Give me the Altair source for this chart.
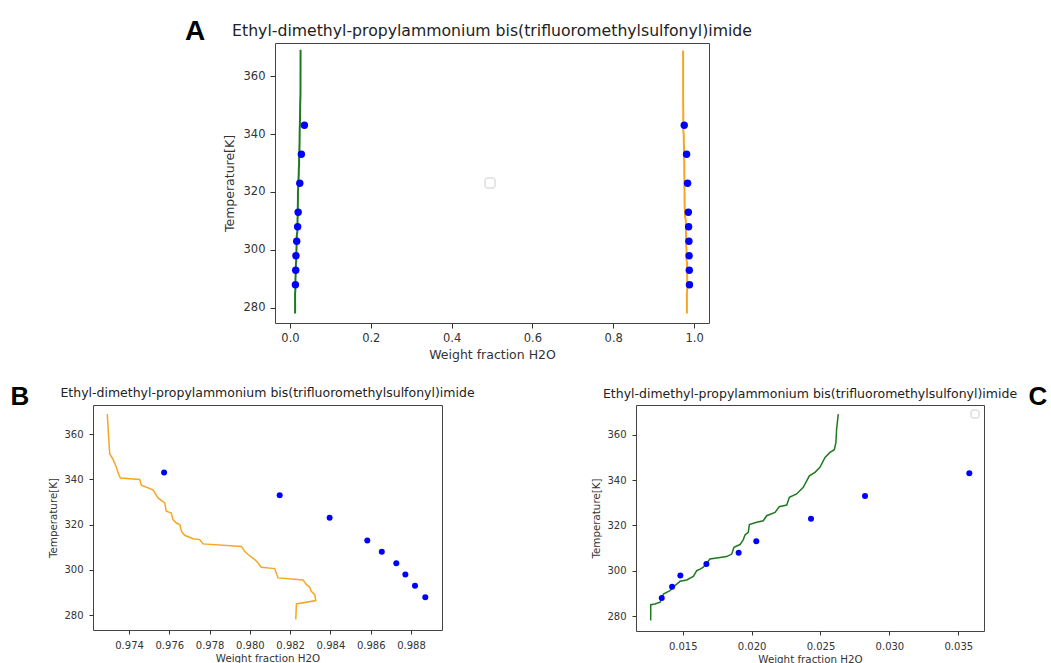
import altair as alt
import pandas as pd

TITLE = "Ethyl-dimethyl-propylammonium bis(trifluoromethylsulfonyl)imide"
X_LABEL = "Weight fraction H2O"
Y_LABEL = "Temperature[K]"

# Experimental liquid-liquid equilibrium points
exp_T = [288, 293, 298, 303, 308, 313, 323, 333, 343]
exp_w_il_phase = [0.01348, 0.01423, 0.01483, 0.01672, 0.01906, 0.02034, 0.02431, 0.02823, 0.03580]
exp_w_water_phase = [0.98871, 0.98820, 0.98772, 0.98727, 0.98655, 0.98583, 0.98396, 0.98148, 0.97574]

# Predicted water-rich branch (orange)
water_T = [278.1, 285.0, 286.5, 289.1, 290.6, 292.4, 293.5, 295.6, 296.5, 300.6,
           301.2, 303.1, 304.6, 306.8, 308.2, 310.4, 311.5, 313.4, 313.8, 315.3,
           317.1, 320.0, 320.7, 322.2, 325.1, 325.9, 329.6, 331.8, 332.9, 335.4,
           337.4, 339.9, 340.6, 342.1, 345.3, 348.7, 351.2, 362.6, 368.8]
water_w = [0.98228, 0.98231, 0.98327, 0.98322, 0.98305, 0.98297, 0.98281, 0.98264, 0.98140, 0.98123,
           0.98057, 0.98041, 0.98024, 0.97991, 0.97974, 0.97958, 0.97767, 0.97751, 0.97718, 0.97676,
           0.97660, 0.97652, 0.97635, 0.97618, 0.97610, 0.97585, 0.97577, 0.97544, 0.97536, 0.97519,
           0.97461, 0.97453, 0.97357, 0.97349, 0.97337, 0.97321, 0.97304, 0.97296, 0.97292]

# Predicted IL-rich branch (green)
il_T = [278.1, 285.1, 285.4, 286.2, 289.8, 291.3, 293.8, 295.4, 296.0, 297.6,
        300.1, 300.8, 301.6, 305.2, 306.3, 307.4, 310.4, 311.6, 313.8, 315.8,
        317.0, 320.4, 321.4, 322.1, 324.3, 325.8, 328.3, 329.0, 332.4, 333.9,
        336.8, 341.9, 343.4, 345.6, 350.0, 352.2, 353.4, 356.6, 362.5, 369.1]
il_w = [0.01268, 0.01268, 0.01299, 0.01336, 0.01360, 0.01408, 0.01449, 0.01481, 0.01529, 0.01577,
        0.01602, 0.01626, 0.01650, 0.01698, 0.01819, 0.01856, 0.01872, 0.01916, 0.01940, 0.01952,
        0.01976, 0.01984, 0.02037, 0.02085, 0.02109, 0.02170, 0.02201, 0.02255, 0.02274, 0.02327,
        0.02375, 0.02419, 0.02460, 0.02496, 0.02533, 0.02569, 0.02600, 0.02612, 0.02617, 0.02629]

ORANGE = "#f6a623"
GREEN = "#1f7a1f"
BLUE = "#0000ff"
FONT = "DejaVu Sans"
INK = "#333333"

water_df = pd.DataFrame({"w": water_w, "T": water_T, "i": range(len(water_T))})
il_df = pd.DataFrame({"w": il_w, "T": il_T, "i": range(len(il_T))})
exp_il_df = pd.DataFrame({"w": exp_w_il_phase, "T": exp_T})
exp_water_df = pd.DataFrame({"w": exp_w_water_phase, "T": exp_T})
both_exp_df = pd.concat([exp_il_df, exp_water_df], ignore_index=True)
one = pd.DataFrame({"k": [0]})


def axes(xdom, xvals, xfmt, ydom, big):
    lab = 11.5 if big else 10
    ttl = 12.5 if big else 10.3
    tick = 5 if big else 4
    common = dict(grid=False, domain=False, tickSize=tick, tickColor=INK,
                  labelFont=FONT, labelFontSize=lab, labelColor=INK,
                  titleFont=FONT, titleFontSize=ttl, titleColor=INK,
                  titleFontWeight="normal")
    x = alt.X("w:Q", title=X_LABEL,
              scale=alt.Scale(domain=xdom, nice=False, zero=False),
              axis=alt.Axis(values=xvals, format=xfmt, labelPadding=4 if big else 6,
                            titlePadding=5 if big else 3, **common))
    y = alt.Y("T:Q", title=Y_LABEL,
              scale=alt.Scale(domain=ydom, nice=False, zero=False),
              axis=alt.Axis(values=[280, 300, 320, 340, 360],
                            labelPadding=5 if big else 6,
                            titlePadding=7 if big else 5, **common))
    return x, y


def curve(df, color, width, xdom, xvals, xfmt, ydom, big):
    x, y = axes(xdom, xvals, xfmt, ydom, big)
    return alt.Chart(df).mark_line(color=color, strokeWidth=width).encode(
        x=x, y=y, order="i:O")


def dots(df, size, xdom, xvals, xfmt, ydom, big):
    x, y = axes(xdom, xvals, xfmt, ydom, big)
    return alt.Chart(df).mark_circle(color=BLUE, opacity=1, size=size).encode(x=x, y=y)


def label_text(text, px, py, size, font=FONT, weight="normal", color="#222222"):
    return alt.Chart(one).mark_text(text=text, font=font, fontWeight=weight,
                                    fontSize=size, color=color,
                                    align="center", baseline="middle").encode(
        x=alt.value(px), y=alt.value(py))


def letter(ch, px, py, size):
    return label_text(ch, px, py, size, font="Liberation Sans", weight="bold",
                      color="#000000")


def legend_box(x0, y0, side):
    return alt.Chart(one).mark_rect(fill="white", stroke="#cccccc", strokeWidth=1,
                                    cornerRadius=2).encode(
        x=alt.value(x0), x2=alt.value(x0 + side),
        y=alt.value(y0), y2=alt.value(y0 + side))


# Panel A: full composition range
A_W, A_H = 434, 280
a_x = ([-0.037, 1.037], [0.0, 0.2, 0.4, 0.6, 0.8, 1.0], ".1f", [274.8, 371.4], True)
panel_a = alt.layer(
    curve(water_df, ORANGE, 2, *a_x),
    curve(il_df, GREEN, 2, *a_x),
    dots(both_exp_df, 55, *a_x),
    legend_box(210, 135, 10),
    label_text(TITLE, A_W / 2, -12, 15.7),
    letter("A", -80, -11.5, 28),
).properties(width=A_W, height=A_H)

# Panel B: water-rich phase
B_W, B_H = 349, 225
b_x = ([0.97221, 0.98954], [0.974, 0.976, 0.978, 0.980, 0.982, 0.984, 0.986, 0.988],
       ".3f", [273.5, 372.8], False)
panel_b = alt.layer(
    curve(water_df, ORANGE, 1.5, *b_x),
    dots(exp_water_df, 36, *b_x),
    label_text(TITLE, B_W / 2, -12, 12.5),
    letter("B", -73, -8, 26),
).properties(width=B_W, height=B_H)

# Panel C: ionic-liquid-rich phase
C_W, C_H = 348, 226
c_x = ([0.011612, 0.036865], [0.015, 0.020, 0.025, 0.030, 0.035], ".3f",
       [273.5, 373.1], False)
panel_c = alt.layer(
    curve(il_df, GREEN, 1.5, *c_x),
    dots(exp_il_df, 36, *c_x),
    legend_box(335, 5, 8),
    label_text(TITLE, C_W / 2, -11, 12.5),
    letter("C", 402, -8, 26),
).properties(width=C_W, height=C_H)

spacer = alt.Chart(one).mark_point(opacity=0).encode(
    x=alt.value(0), y=alt.value(0)
).properties(width=91, height=10, view=alt.ViewBackground(strokeOpacity=0))

top = alt.hconcat(spacer, panel_a, spacing=0)
bottom = alt.hconcat(panel_b, panel_c, spacing=115)

chart = alt.vconcat(top, bottom, spacing=21).properties(
    padding={"left": 10, "top": 17, "right": 0, "bottom": 0},
    background="white",
).configure_view(stroke="#444444", strokeWidth=1)

chart.save("out.html", embed_options={"renderer": "svg", "actions": False})
